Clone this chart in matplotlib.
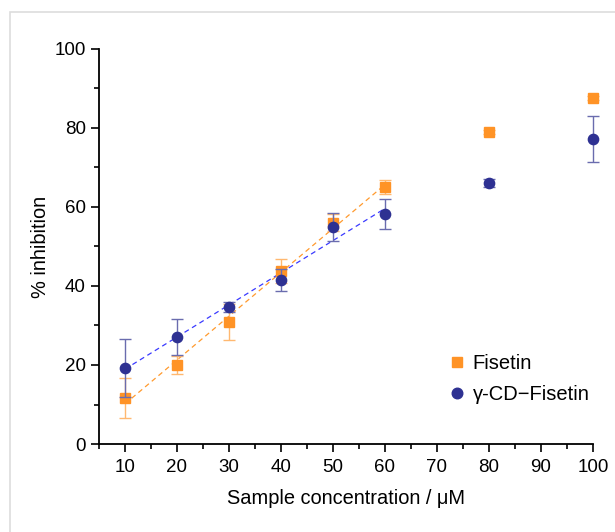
import numpy as np
import matplotlib.pyplot as plt
from matplotlib.patches import Rectangle
from matplotlib.lines import Line2D
from matplotlib.ticker import MultipleLocator

plt.rcParams['font.family'] = ['Liberation Sans', 'DejaVu Sans']

conc = [10, 20, 30, 40, 50, 60, 80, 100]
fisetin = [11.6, 20.0, 30.9, 43.8, 56.0, 65.1, 79.0, 87.6]
fisetin_err = [5.0, 2.3, 4.6, 3.0, 2.2, 1.8, 0.5, 0.5]
cd_fisetin = [19.3, 27.1, 34.7, 41.5, 54.9, 58.2, 66.1, 77.2]
cd_fisetin_err = [7.3, 4.6, 1.2, 2.8, 3.5, 3.8, 1.0, 5.7]
fit_n = 6  # linear fit over 10-60 uM

fig = plt.figure(figsize=(6.15, 5.32), dpi=100)
ax = fig.add_axes([0.161, 0.1654, 0.803, 0.7426])

# light frame around the panel
fig.patches.append(Rectangle((10 / 615, -0.1), 1.2, 1 - 12 / 532 + 0.1,
                             transform=fig.transFigure, fill=False,
                             edgecolor='#dddddd', lw=1.2))

orange = '#ff9326'
navy = '#2e3192'

x = np.array(conc, dtype=float)
for y, lc in [(fisetin, '#ff9a2e'), (cd_fisetin, '#3a3aff')]:
    p = np.polyfit(x[:fit_n], np.array(y[:fit_n]), 1)
    xs = np.array([x[0], x[fit_n - 1]])
    ax.plot(xs, np.polyval(p, xs), ls=(0, (4, 3)), color=lc, lw=0.9, zorder=2)

for y, e, m, c, ec, ms, z in [(fisetin, fisetin_err, 's', orange, '#ffb870', 6.6, 3),
                              (cd_fisetin, cd_fisetin_err, 'o', navy, '#6a6cae', 7.4, 4)]:
    parts = ax.errorbar(conc, y, yerr=e, fmt=m, color=c, ms=ms, mec=c,
                        ecolor=ec, elinewidth=1, capsize=4, capthick=1, zorder=z)
    for a in [parts[0], *parts[1], *parts[2]]:
        a.set_clip_on(False)

ax.set_xlim(5, 100)
ax.set_ylim(0, 100)
ax.xaxis.set_major_locator(MultipleLocator(10))
ax.xaxis.set_minor_locator(MultipleLocator(5))
ax.yaxis.set_major_locator(MultipleLocator(20))
ax.yaxis.set_minor_locator(MultipleLocator(10))
ax.set_xticks(range(10, 101, 10))

for s in ['top', 'right']:
    ax.spines[s].set_visible(False)
for s in ['left', 'bottom']:
    ax.spines[s].set_linewidth(1.3)
ax.tick_params(which='major', length=6, width=1.2, labelsize=13.5, direction='out')
ax.tick_params(axis='x', which='major', pad=5)
ax.tick_params(which='minor', length=3.5, width=1.2, direction='out')

ax.set_xlabel('Sample concentration / \u03bcM', fontsize=14.4, labelpad=9)
ax.set_ylabel('% inhibition', fontsize=14.4, labelpad=3)

handles = [Line2D([], [], ls='', marker='s', color=orange, ms=7),
           Line2D([], [], ls='', marker='o', color=navy, ms=7.6)]
ax.legend(handles, ['Fisetin', '\u03b3-CD\u2212Fisetin'], loc='lower right',
          bbox_to_anchor=(1.03, 0.055), frameon=False, fontsize=14.5,
          handletextpad=0.3, labelspacing=0.6, handlelength=1.0)

fig.savefig('out.png', dpi=100)
